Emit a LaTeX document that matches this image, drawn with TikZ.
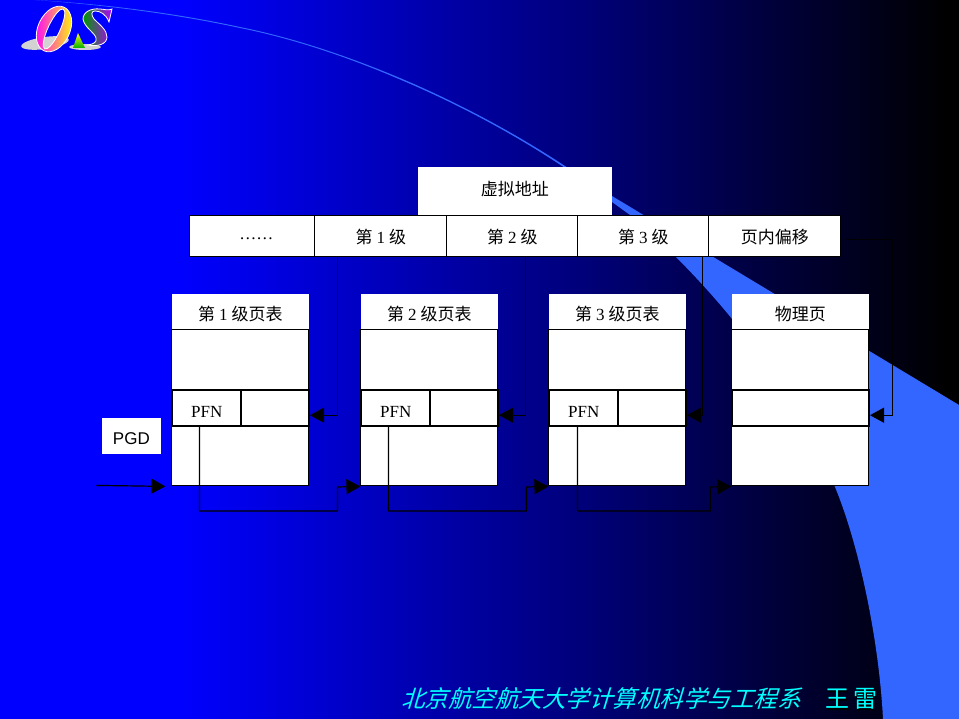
\documentclass[tikz,border=0pt]{standalone}
\usepackage{fontspec}
\setmainfont{Liberation Serif}
\setsansfont{Liberation Sans}
\newfontfamily\cjk{Noto Sans CJK SC}
\newfontfamily\cjkit[FakeSlant=0.3]{Noto Sans CJK SC}
\usetikzlibrary{arrows.meta}
\definecolor{bandblue}{RGB}{51,102,255}
\definecolor{footcyan}{RGB}{0,255,255}
\newcommand{\lowered}[2]{\raisebox{-#1pt}[0pt][0pt]{#2}}
\tikzset{
	cell/.style={draw=black, fill=white, inner sep=0pt, line width=1pt, anchor=north west, font=\fontsize{17}{19}\selectfont},
	plain/.style={cell, draw=none},
	slot/.style={cell, line width=1.6pt},
	link/.style={draw=black, line width=1.2pt},
	tip/.style={-{Triangle[length=14pt,width=15pt]}},
	foot/.style={inner sep=0pt, text=footcyan, font=\fontsize{23.5}{26}\selectfont\cjkit}
}
\begin{document}
\begin{tikzpicture}[x=1pt,y=-1pt]
	\useasboundingbox (0,0) rectangle (959,719);
	\foreach \x in {0,4,...,956} {
		\pgfmathtruncatemacro{\shadeval}{max(0,min(255,(950-\x)*0.331))}
		\definecolor{strip}{RGB}{0,0,\shadeval}
		\fill[strip] (\x,0) rectangle (959,719);
	}
	\fill[bandblue] (35,0) .. controls (105,4) and (175,13) .. (240,27) .. controls (295,38) and (350,57) .. (400,78)
		.. controls (457,102) and (515,133) .. (565,166) -- (612,196) -- (959,405) -- (959,719) -- (883,719)
		.. controls (879,640) and (859,545) .. (835,487) .. controls (800,400) and (725,295) .. (630,215) -- (612,202) -- (565,168)
		.. controls (515,134.5) and (457,103.5) .. (400,79.5) .. controls (350,58) and (295,39) .. (240,28)
		.. controls (175,14) and (105,5) .. (35,0) -- cycle;
	\fill[gray!35, rotate around={8:(45,43)}] (45,43) ellipse [x radius=24, y radius=6];
	\fill[gray!35] (85,47) ellipse [x radius=16, y radius=3];
	\begin{scope}[shift={(54,29)}, rotate=-25]
		\shadedraw[left color=magenta, middle color=orange, right color=yellow, draw=white, even odd rule, line width=0.8pt]
			(0,0) ellipse [x radius=16, y radius=24] (0,0) ellipse [x radius=6, y radius=22];
	\end{scope}
	\shade[bottom color=green!70!black, top color=yellow] (73,48) -- (78,33) -- (85,48) -- cycle;
	\shadedraw[left color=green!60!black, middle color=blue, right color=magenta!70!blue, draw=white, line width=0.8pt]
		(112,9) -- (109,22) .. controls (106,14) and (100,11) .. (95,11) .. controls (91,11) and (91,15) .. (94,19)
		.. controls (100,25) and (107,30) .. (107,37) .. controls (107,44) and (98,47) .. (88,45)
		.. controls (94,44) and (97,42) .. (96,38) .. controls (95,33) and (84,27) .. (83,19)
		.. controls (83,12) and (91,8) .. (100,9) .. controls (104,9) and (108,11) .. (112,9) -- cycle;

	\begin{scope}[shift={(-0.6,-0.6)}]
	\node[plain, minimum width=194pt, minimum height=48pt] (vaddr) at (418,167) {\lowered{5}{\cjk 虚拟地址}};
	\node[cell, minimum width=125pt, minimum height=41pt] (rest) at (190,216) {\hspace{8pt}\lowered{3}{……}};
	\foreach \n/\x/\w/\txt in {1/315/132/1,2/447/131/2,3/578/131/3} {
		\node[cell, minimum width=\w pt, minimum height=41pt] (lev\n) at (\x,216) {\lowered{7.5}{{\cjk 第}\hspace{4pt}\txt\hspace{4pt}{\cjk 级}}};
	}
	\node[cell, minimum width=132pt, minimum height=41pt] (offset) at (709,216) {\lowered{7.5}{\cjk 页内偏移}};

	\foreach \n/\x in {1/172,2/361,3/549} {
		\node[plain, minimum width=137pt, minimum height=36pt] (tab\n head) at (\x,294) {\lowered{9}{{\cjk 第}\hspace{4pt}\n\hspace{4pt}{\cjk 级页表}}};
		\node[cell, minimum width=137pt, minimum height=60pt] (tab\n top) at (\x,330) {};
		\node[cell, minimum width=137pt, minimum height=60pt] (tab\n low) at (\x,426) {};
		\node[slot, minimum width=137pt, minimum height=36pt] (tab\n slot) at (\x,390) {};
		\node[slot, minimum width=69pt, minimum height=36pt] (tab\n pfn) at (\x,390) {\lowered{9.5}{PFN}};
	}
	\node[plain, minimum width=137pt, minimum height=36pt] (pagehead) at (732,294) {\lowered{9}{\cjk 物理页}};
	\node[cell, minimum width=137pt, minimum height=60pt] (pagetop) at (732,330) {};
	\node[cell, minimum width=137pt, minimum height=60pt] (pagelow) at (732,426) {};
	\node[slot, minimum width=137pt, minimum height=36pt] (pageslot) at (732,390) {};
	\node[plain, minimum width=59pt, minimum height=36pt, font=\fontsize{17}{19}\selectfont\sffamily] (pgd) at (102,418) {\lowered{9}{PGD}};

	\draw[link, tip] ([xshift=23pt]lev1.south west) |- ([yshift=-7pt]tab1slot.east);
	\draw[link, tip] ([xshift=79pt]lev2.south west) |- ([yshift=-7pt]tab2slot.east);
	\draw[link, tip] ([xshift=125pt]lev3.south west) |- ([yshift=-7pt]tab3slot.east);
	\draw[link, tip] ([xshift=5pt,yshift=-3pt]offset.east) -- ++(46,0) |- ([yshift=-7pt]pageslot.east);

	\coordinate (pgdin) at (97,486);
	\draw[link, tip] (pgdin) -- ([xshift=-6pt]tab1low.south west);
	\draw[link, tip] ([xshift=28pt]tab1pfn.south west) -- ++(0,84) -- ++(138,0) -- ++(0,-24) -- (tab2low.south west);
	\draw[link, tip] ([xshift=28pt]tab2pfn.south west) -- ++(0,84) -- ++(138,0) -- ++(0,-24) -- (tab3low.south west);
	\draw[link, tip] ([xshift=29pt]tab3pfn.south west) -- ++(0,84) -- ++(133,0) -- ++(0,-24) -- (pagelow.south west);
	\end{scope}

	\node[foot, anchor=west] (dept) at (401,699) {北京航空航天大学计算机科学与工程系};
	\node[foot, anchor=west, text=black, font=\fontsize{24}{26}\selectfont\cjk] (nameshade) at (826.5,700.5) {王\,雷};
	\node[foot, anchor=west, font=\fontsize{24}{26}\selectfont\cjk] (name) at (825,699) {王\,雷};
\end{tikzpicture}
\end{document}
